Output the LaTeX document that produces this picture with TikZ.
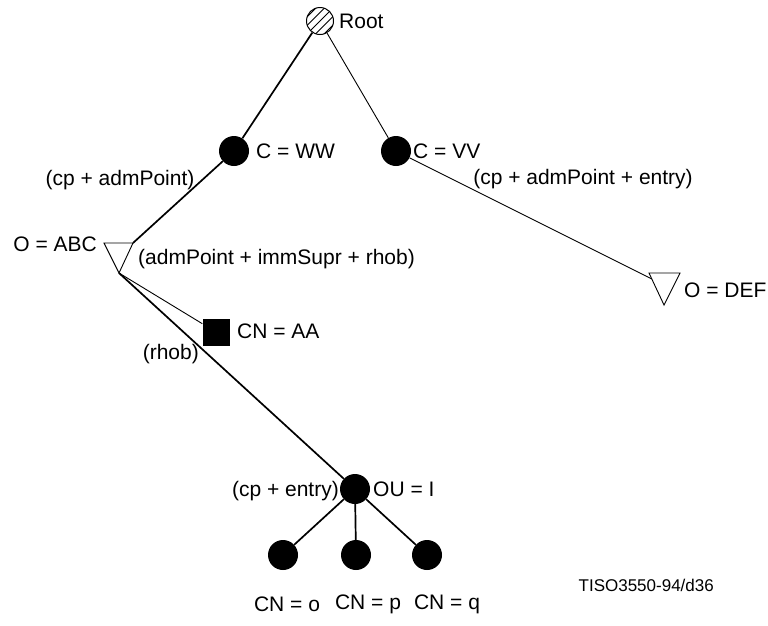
\documentclass[tikz,border=0pt]{standalone}
\usepackage{fontspec}
\setmainfont{Liberation Sans}
\begin{document}
\begin{tikzpicture}[x=1pt,y=-1pt,
  lbl/.style={inner sep=0pt, font=\fontsize{21}{24}\selectfont},
  small/.style={inner sep=0pt, font=\fontsize{17}{20}\selectfont},
  dot/.style={circle, fill=black, minimum size=30pt, inner sep=0pt},
  sqbox/.style={rectangle, fill=black, minimum size=27pt, inner sep=0pt},
  rootc/.style={circle, draw, line width=1pt, minimum size=27pt, inner sep=0pt},
  heavy/.style={line width=1.7pt},
  light/.style={line width=0.9pt},
  tri/.style={line width=0.9pt, line join=miter}]
\useasboundingbox (0,0) rectangle (768,625);

% root with hatching
\begin{scope}
  \clip (320,21) circle (13.5);
  \foreach \d in {-17,-8.5,0,8.5,17}
    \draw[line width=0.8pt] ({300+\d},41) -- ({340+\d},1);
\end{scope}
\node[rootc] (root) at (320,21) {};
\node[lbl, anchor=west] (rootl) at (339,21) {Root};

% C nodes
\node[dot] (ww) at (234,151) {};
\node[lbl, anchor=west] (wwl) at (256,151) {C = WW};
\node[dot] (vv) at (396,151) {};
\node[lbl, anchor=west] (vvl) at (413,151) {C = VV};

\node[lbl] (l1) at (120,180) {(cp + admPoint)};
\node[lbl] (l2) at (583,179) {(cp + admPoint + entry)};

% triangle ABC
\coordinate (abcL) at (104,243);
\coordinate (abcR) at (133,243);
\coordinate (abcA) at (119,273);
\draw[tri] (abcL) -- (abcR) -- (abcA) -- cycle;
\node[lbl, anchor=east] (abcl) at (97,244) {O = ABC};
\node[lbl, anchor=west] (l3) at (138,259) {(admPoint + immSupr + rhob)};

% triangle DEF
\coordinate (defL) at (649,273);
\coordinate (defR) at (680,273);
\coordinate (defA) at (664,305);
\coordinate (defE) at (652,279);
\draw[tri] (defL) -- (defR) -- (defA) -- cycle;
\node[lbl, anchor=west] (defl) at (684,290) {O = DEF};

% CN = AA
\node[sqbox] (aa) at (216,332) {};
\node[lbl, anchor=west] (aal) at (237,331) {CN = AA};
\node[lbl, anchor=east] (l4) at (199,354) {(rhob)};

% OU = I
\node[dot] (ou) at (355,489) {};
\node[lbl, anchor=west] (oul) at (373,489) {OU = I};
\node[lbl, anchor=east] (l5) at (339,491) {(cp + entry)};

% leaves
\node[dot] (co) at (283,555) {};
\node[dot] (cp) at (356,555) {};
\node[dot] (cq) at (427,555) {};
\node[lbl] (col) at (287,604) {CN = o};
\node[lbl] (cpl) at (368,604) {CN = p};
\node[lbl] (cql) at (447,604) {CN = q};

\node[small, anchor=east] (tiso) at (714,585) {TISO3550-94/d36};

% connectors
\draw[heavy] (root) -- (ww);
\draw[light] (root) -- (vv);
\draw[heavy] (ww) -- (abcR);
\draw[light] (vv) -- (defE);
\draw[light] (abcA) -- (aa);
\draw[heavy] (abcA) -- (ou);
\draw[heavy] (ou) -- (co);
\draw[heavy] (ou) -- (cp);
\draw[heavy] (ou) -- (cq);
\end{tikzpicture}
\end{document}
